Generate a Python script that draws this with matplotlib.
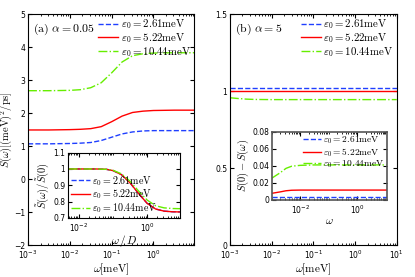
import numpy as np
import matplotlib
matplotlib.use('Agg')
import matplotlib.pyplot as plt
from matplotlib.ticker import LogLocator, NullFormatter

plt.rcParams['mathtext.fontset'] = 'cm'
plt.rcParams['xtick.direction'] = 'in'
plt.rcParams['ytick.direction'] = 'in'
plt.rcParams['xtick.top'] = True
plt.rcParams['ytick.right'] = True
plt.rcParams['font.size'] = 5.5

labels = [r'$\varepsilon_0=2.61\mathrm{meV}$',
          r'$\varepsilon_0=5.22\mathrm{meV}$',
          r'$\varepsilon_0=10.44\mathrm{meV}$']
colors = ['#1f3fff', '#ff0000', '#66ee00']
styles = ['--', '-', '-.']

# (a) alpha = 0.05, main panel
log_w_a = [-3, -2.5, -2, -1.75, -1.5, -1.25, -1, -0.75, -0.5, -0.25, 0, 0.5, 0.97]
s_a = [
    [1.07, 1.07, 1.08, 1.09, 1.11, 1.17, 1.27, 1.37, 1.43, 1.46, 1.47, 1.47, 1.47],
    [1.49, 1.49, 1.50, 1.51, 1.53, 1.59, 1.74, 1.91, 2.02, 2.06, 2.08, 2.09, 2.09],
    [2.68, 2.68, 2.69, 2.71, 2.77, 2.92, 3.22, 3.55, 3.74, 3.80, 3.82, 3.83, 3.83],
]

# (a) inset, normalised
log_w_ai = [-2.3, -1.5, -1.2, -1.0, -0.75, -0.5, -0.25, 0, 0.25, 0.5, 0.75, 0.97]
s_ai = [
    [1.0, 1.0, 0.998, 0.99, 0.965, 0.915, 0.85, 0.79, 0.755, 0.742, 0.738, 0.737],
    [1.0, 1.0, 0.998, 0.99, 0.965, 0.915, 0.85, 0.79, 0.755, 0.742, 0.738, 0.737],
    [1.0, 1.0, 0.998, 0.992, 0.97, 0.925, 0.865, 0.81, 0.775, 0.762, 0.758, 0.757],
]

# (b) alpha = 5, main panel
log_w_b = [-3, -2.8, -2.6, -2.4, -2, -1, 0, 1]
s_b = [
    [1.022, 1.022, 1.022, 1.022, 1.022, 1.022, 1.022, 1.022],
    [1.003, 1.003, 1.003, 1.003, 1.003, 1.003, 1.003, 1.003],
    [0.957, 0.952, 0.948, 0.946, 0.945, 0.945, 0.945, 0.945],
]

# (b) inset, S(0) - S(w)
log_w_bi = [-3, -2.7, -2.5, -2.3, -2.0, -1.5, -1, 0, 1.05]
s_bi = [
    [0.003, 0.003, 0.003, 0.003, 0.003, 0.003, 0.003, 0.003, 0.003],
    [0.0078, 0.0095, 0.0108, 0.0114, 0.0116, 0.0116, 0.0116, 0.0116, 0.0116],
    [0.0255, 0.032, 0.037, 0.0395, 0.0405, 0.041, 0.041, 0.041, 0.041],
]

leg_kw = dict(frameon=False, handlelength=1.9, borderpad=0.1, borderaxespad=0.2,
              labelspacing=0.0, handletextpad=0.2)

fig = plt.figure(figsize=(4.15, 2.77), dpi=100)

ax1 = fig.add_axes([0.0675, 0.115, 0.4, 0.834])
for s, c, ls, lab in zip(s_a, colors, styles, labels):
    ax1.plot(10 ** np.array(log_w_a), s, color=c, ls=ls, lw=1.0, label=lab)
ax1.set_xscale('log')
ax1.set_xlim(1e-3, 10 ** 0.97)
ax1.set_ylim(-2, 5)
ax1.set_xlabel(r'$\omega[\mathrm{meV}]$', fontsize=8, labelpad=0)
ax1.set_ylabel(r'$S(\omega)[(\mathrm{meV})^2/\mathrm{ps}]$', fontsize=7.5)
ax1.yaxis.set_label_coords(-0.082, 0.5)
ax1.text(0.03, 0.965, r'$\mathrm{(a)}\ \alpha=0.05$', transform=ax1.transAxes,
         va='top', fontsize=8.5)
ax1.legend(loc='upper right', fontsize=7.8, **leg_kw)

ax1i = fig.add_axes([0.164, 0.213, 0.27, 0.236])
for s, c, ls, lab in zip(s_ai, colors, styles, labels):
    ax1i.plot(10 ** np.array(log_w_ai), s, color=c, ls=ls, lw=1.0, label=lab)
ax1i.set_xscale('log')
ax1i.set_xlim(10 ** -2.32, 10 ** 0.97)
ax1i.xaxis.set_major_locator(LogLocator(base=100))
ax1i.xaxis.set_minor_locator(LogLocator(base=10, subs=np.arange(1, 10)))
ax1i.xaxis.set_minor_formatter(NullFormatter())
ax1i.set_ylim(0.7, 1.1)
ax1i.set_yticks([0.7, 0.8, 0.9, 1.0, 1.1])
ax1i.set_yticklabels(['0.7', '0.8', '0.9', '1', '1.1'])
ax1i.set_xlabel(r'$\omega\,/\,D$', fontsize=8, labelpad=-1)
ax1i.set_ylabel(r'$\tilde{S}(\omega)/\tilde{S}(0)$', fontsize=7.5, labelpad=1)
ax1i.legend(loc='lower left', fontsize=7.2, **leg_kw)

ax2 = fig.add_axes([0.554, 0.115, 0.402, 0.834])
for s, c, ls, lab in zip(s_b, colors, styles, labels):
    ax2.plot(10 ** np.array(log_w_b), s, color=c, ls=ls, lw=1.0, label=lab)
ax2.set_xscale('log')
ax2.set_xlim(1e-3, 1e1)
ax2.set_ylim(0, 1.5)
ax2.set_yticks([0, 0.5, 1, 1.5])
ax2.set_yticklabels(['0', '0.5', '1', '1.5'])
ax2.set_xlabel(r'$\omega[\mathrm{meV}]$', fontsize=8, labelpad=0)
ax2.text(0.03, 0.965, r'$\mathrm{(b)}\ \alpha=5$', transform=ax2.transAxes,
         va='top', fontsize=8.5)
ax2.legend(loc='upper right', fontsize=7.8, **leg_kw)

ax2i = fig.add_axes([0.655, 0.278, 0.277, 0.247])
for s, c, ls, lab in zip(s_bi, colors, styles, labels):
    ax2i.plot(10 ** np.array(log_w_bi), s, color=c, ls=ls, lw=1.0, label=lab)
ax2i.set_xscale('log')
ax2i.set_xlim(1e-3, 10 ** 1.05)
ax2i.xaxis.set_major_locator(LogLocator(base=100))
ax2i.xaxis.set_minor_locator(LogLocator(base=10, subs=np.arange(1, 10)))
ax2i.xaxis.set_minor_formatter(NullFormatter())
ax2i.set_ylim(0, 0.08)
ax2i.set_yticks([0, 0.02, 0.04, 0.06, 0.08])
ax2i.set_yticklabels(['0', '0.02', '0.04', '0.06', '0.08'])
ax2i.set_xlabel(r'$\omega$', fontsize=8, labelpad=0)
ax2i.set_ylabel(r'$S(0)-S(\omega)$', fontsize=7.5, labelpad=1)
ax2i.legend(loc='upper right', fontsize=6.8, **leg_kw)
for sp in ax2i.spines.values():
    sp.set_color('#555555')
    sp.set_linewidth(1.2)

for ax in (ax1, ax1i, ax2, ax2i):
    ax.tick_params(which='both', labelsize=5.5, pad=2)
    ax.tick_params(axis='x', which='both', pad=2.8)
    ax.tick_params(which='major', length=3)
    ax.tick_params(which='minor', length=1.5)

fig.savefig('out.png', dpi=100)
